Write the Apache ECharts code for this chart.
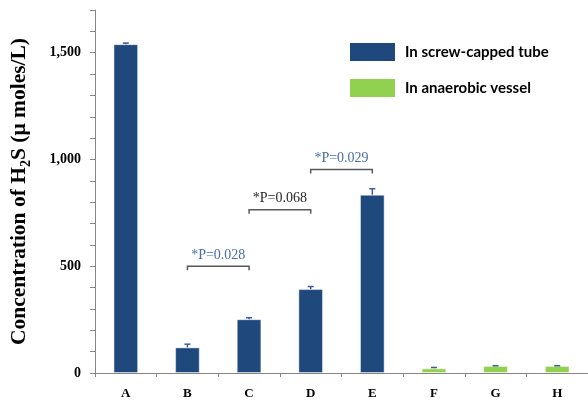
<!DOCTYPE html>
<html><head><meta charset="utf-8">
<script src="https://cdn.jsdelivr.net/npm/echarts@6/dist/echarts.min.js"></script>
<style>html,body{margin:0;padding:0;background:#fff}#c{width:588px;height:406px}</style>
</head><body><div id="c"></div>
<script>
const categories = ['A','B','C','D','E','F','G','H'];
const tubeValues = [1540, 120, 252, 393, 835, '-', '-', '-'];
const vesselValues = ['-', '-', '-', '-', '-', 22, 33, 33];
const errValues = [5, 15, 7, 12, 28, 4, 1, 1];
const brackets = [
  ['B', 'C', 500, '*P=0.028'],
  ['C', 'D', 765, '*P=0.068'],
  ['D', 'E', 953, '*P=0.029']
];
const bracketColors = ['#4a6ea3', '#262626', '#4a6ea3'];
const legendNames = ['In screw-capped tube', 'In anaerobic vessel'];
const yTickStep = 100, yMax = 1700, yLabelStep = 500;

const blue = '#1f497d', green = '#92d050';
const chart = echarts.init(document.getElementById('c'));
const errData = categories.map((c, i) => {
  const v = tubeValues[i] !== '-' ? tubeValues[i] : vesselValues[i];
  return [i, v, errValues[i]];
});
const bracketData = brackets.map(b => [categories.indexOf(b[0]), categories.indexOf(b[1]), b[2]]);

chart.setOption({
  animation: false,
  grid: {left: 94, right: 0, top: 10, bottom: 33},
  legend: {
    orient: 'vertical', left: 350, top: 43, padding: 0, itemWidth: 45, itemHeight: 18, itemGap: 18,
    icon: 'rect',
    data: legendNames,
    itemStyle: {borderWidth: 0},
    textStyle: {fontFamily: 'Lato', fontWeight: 'bold', fontSize: 15, color: '#000', padding: [0,0,0,5]}
  },
  xAxis: {
    type: 'category', data: categories,
    axisLine: {lineStyle: {color: '#868686', width: 1}},
    axisTick: {show: true, length: 4, lineStyle: {color: '#868686'}},
    axisLabel: {margin: 14, fontFamily: 'Liberation Serif', fontWeight: 'bold', fontSize: 13, color: '#000'}
  },
  yAxis: {
    type: 'value', min: 0, max: yMax, interval: yTickStep,
    name: '{a|Concentration of H}{s|2}{a|S (μ moles/L)}',
    nameLocation: 'middle', nameGap: 62, nameRotate: 90,
    nameTextStyle: {
      rich: {
        a: {fontFamily: 'Liberation Serif', fontWeight: 'bold', fontSize: 21.5, color: '#000', lineHeight: 28, verticalAlign: 'middle'},
        s: {fontFamily: 'Liberation Serif', fontWeight: 'bold', fontSize: 14, color: '#000', lineHeight: 28, verticalAlign: 'bottom', padding: [8,0,0,0]}
      }
    },
    splitLine: {show: false},
    axisLine: {show: true, lineStyle: {color: '#868686', width: 1}},
    axisTick: {show: true, length: 5, lineStyle: {color: '#868686'}},
    axisLabel: {
      margin: 14, fontFamily: 'Liberation Serif', fontWeight: 'bold', fontSize: 14, color: '#000',
      formatter: v => (v % yLabelStep === 0 ? v.toLocaleString('en-US') : '')
    }
  },
  series: [
    {name: legendNames[0], type: 'bar', data: tubeValues, barWidth: '40%', barGap: '-100%',
     itemStyle: {color: blue, borderColor: 'rgba(255,255,255,0.45)', borderWidth: 1}},
    {name: legendNames[1], type: 'bar', data: vesselValues, barWidth: '40%', barGap: '-100%',
     itemStyle: {color: green, borderColor: 'rgba(255,255,255,0.45)', borderWidth: 1}},
    {type: 'custom', data: errData, z: 5, silent: true,
     renderItem: (params, api) => {
       const i = api.value(0), v = api.value(1), e = api.value(2);
       const p0 = api.coord([i, v]), p1 = api.coord([i, v + e]);
       const hw = 3;
       return {type: 'group', children: [
         {type: 'line', shape: {x1: p0[0], y1: p0[1], x2: p1[0], y2: p1[1]}, style: {stroke: '#3a5f92', lineWidth: 1.5}},
         {type: 'line', shape: {x1: p1[0]-hw, y1: p1[1], x2: p1[0]+hw, y2: p1[1]}, style: {stroke: '#3a5f92', lineWidth: 1.5}}
       ]};
     }},
    {type: 'custom', data: bracketData, z: 6, silent: true,
     renderItem: (params, api) => {
       const a = api.coord([api.value(0), api.value(2)]);
       const b = api.coord([api.value(1), api.value(2)]);
       const col = bracketColors[params.dataIndex];
       return {type: 'group', children: [
         {type: 'polyline', shape: {points: [[a[0], a[1]+4], [a[0], a[1]], [b[0], b[1]], [b[0], b[1]+4]]},
          style: {stroke: '#595959', lineWidth: 1.5, fill: null}},
         {type: 'text', x: (a[0]+b[0])/2, y: a[1]-11,
          style: {text: brackets[params.dataIndex][3], fill: col, font: '14px "Liberation Serif"', align: 'center', verticalAlign: 'middle'}}
       ]};
     }}
  ]
});
</script></body></html>
